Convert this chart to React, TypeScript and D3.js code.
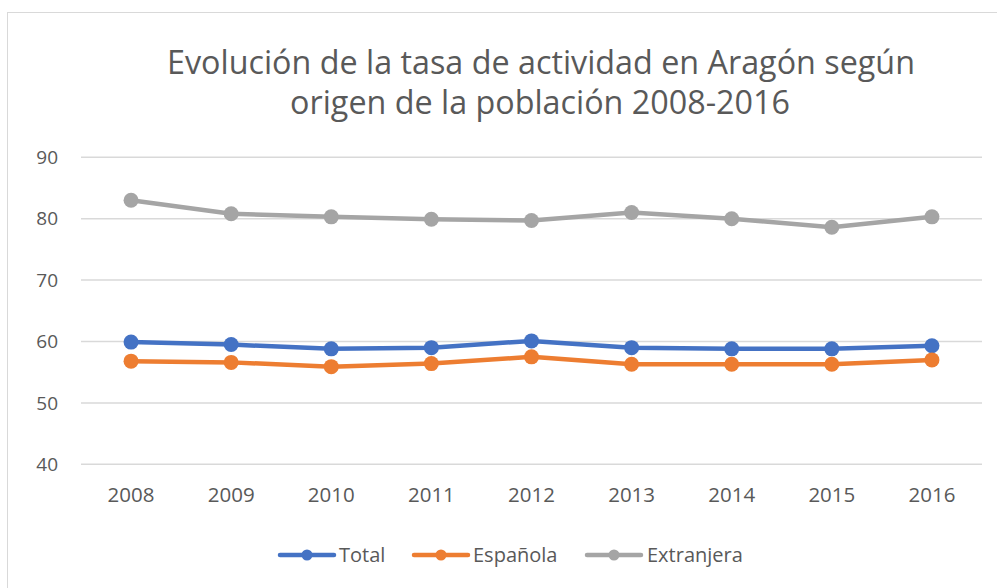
import React from 'react';
import * as d3 from 'd3';

const years = ['2008', '2009', '2010', '2011', '2012', '2013', '2014', '2015', '2016'];
const total = [59.9, 59.5, 58.8, 59.0, 60.1, 59.0, 58.8, 58.8, 59.3];
const espanola = [56.8, 56.6, 55.9, 56.4, 57.5, 56.3, 56.3, 56.3, 57.0];
const extranjera = [83.0, 80.8, 80.3, 79.9, 79.7, 81.0, 80.0, 78.6, 80.3];
const yTicks = [40, 50, 60, 70, 80, 90];
const seriesNames = ['Total', 'Española', 'Extranjera'];
const seriesColors = ['#4472C4', '#ED7D31', '#A5A5A5'];

const W = 997;
const H = 588;
const FONT = '"Open Sans", sans-serif';
const TEXT = '#595959';

export default function App() {
	const x = d3.scaleBand().domain(years).range([81, 982]);
	const y = d3.scaleLinear().domain([40, 90]).range([464.3, 157.3]);
	const cx = (d: string) => (x(d) || 0) + x.bandwidth() / 2;

	const line = d3.line<number>()
		.x((d, i) => cx(years[i]))
		.y(d => y(d));

	const series = [total, espanola, extranjera];

	// legend layout: line start, text start
	const legend = [
		{lineX: 280, textX: 339},
		{lineX: 414, textX: 473},
		{lineX: 587, textX: 647},
	];

	return (
		<svg width={W} height={H} style={{position: 'absolute', left: 0, top: 0, background: '#fff'}}
			fontFamily={FONT}>
			<rect x={7.5} y={12.5} width={1000} height={600} fill="#fff" stroke="#d9d9d9"/>

			<text x={541} y={74} textAnchor="middle" fontSize={32.3} fill={TEXT}>
				Evolución de la tasa de actividad en Aragón según
			</text>
			<text x={540} y={114} textAnchor="middle" fontSize={32.3} fill={TEXT}>
				origen de la población 2008-2016
			</text>

			{/* grid */}
			<g className="grid">
				{yTicks.map(t => (
					<line key={t} x1={81} x2={982} y1={y(t)} y2={y(t)} stroke="#d9d9d9" strokeWidth={1.5}/>
				))}
			</g>

			{/* y labels */}
			<g className="y-labels">
				{yTicks.map(t => (
					<text key={t} x={58} y={y(t)} dy="0.35em" textAnchor="end" fontSize={19} fill={TEXT}>{t}</text>
				))}
			</g>

			{/* x labels */}
			<g className="x-labels">
				{years.map(d => (
					<text key={d} x={cx(d)} y={502} textAnchor="middle" fontSize={20.5} fill={TEXT}>{d}</text>
				))}
			</g>

			{/* lines */}
			<g className="lines">
				{series.map((s, si) => (
					<g key={si}>
						<path d={line(s) || ''} fill="none" stroke={seriesColors[si]} strokeWidth={4.5}
							strokeLinejoin="round" strokeLinecap="round"/>
						{s.map((v, i) => (
							<circle key={i} cx={cx(years[i])} cy={y(v)} r={7.5} fill={seriesColors[si]}/>
						))}
					</g>
				))}
			</g>

			{/* legend */}
			<g className="legend">
				{seriesNames.map((name, i) => (
					<g key={name}>
						<line x1={legend[i].lineX} x2={legend[i].lineX + 54} y1={555} y2={555}
							stroke={seriesColors[i]} strokeWidth={4.5} strokeLinecap="round"/>
						<circle cx={legend[i].lineX + 27} cy={555} r={5.5} fill={seriesColors[i]}/>
						<text x={legend[i].textX} y={555} dy="0.35em" fontSize={20} fill={TEXT}>{name}</text>
					</g>
				))}
			</g>
		</svg>
	);
}
